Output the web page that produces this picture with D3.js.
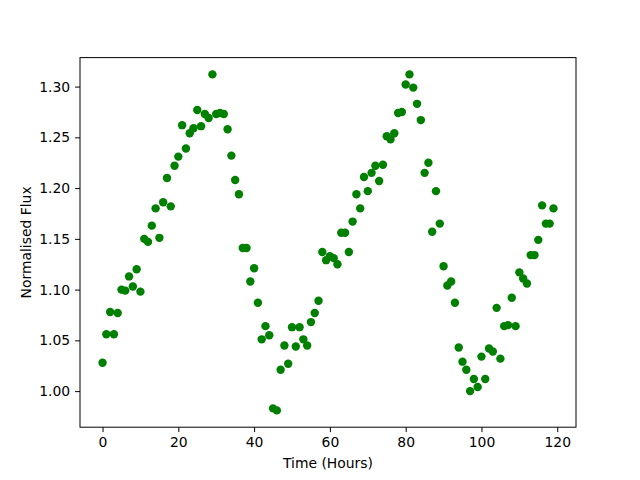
<!DOCTYPE html>
<html><head><meta charset="utf-8">
<script src="https://cdn.jsdelivr.net/npm/d3@7"></script>
<style>body{margin:0;background:#fff}svg{display:block}</style>
</head><body>
<script>
const hours = d3.range(0, 120);
const flux = [
1.028,1.056,1.078,1.056,1.077,1.100,1.099,1.113,1.103,1.120,
1.098,1.150,1.147,1.163,1.180,1.151,1.186,1.210,1.182,1.222,
1.231,1.262,1.239,1.254,1.259,1.277,1.261,1.273,1.269,1.312,
1.273,1.274,1.273,1.258,1.232,1.208,1.194,1.141,1.141,1.108,
1.121,1.087,1.051,1.064,1.055,0.983,0.981,1.021,1.045,1.027,
1.063,1.044,1.063,1.051,1.045,1.068,1.077,1.089,1.137,1.129,
1.133,1.131,1.125,1.156,1.156,1.137,1.167,1.194,1.180,1.211,
1.197,1.215,1.222,1.207,1.223,1.251,1.248,1.254,1.274,1.275,
1.302,1.312,1.299,1.283,1.267,1.215,1.225,1.157,1.197,1.165,
1.123,1.104,1.108,1.087,1.043,1.029,1.021,1.000,1.012,1.004,
1.034,1.012,1.042,1.039,1.082,1.032,1.064,1.065,1.092,1.064,
1.117,1.111,1.106,1.134,1.134,1.149,1.183,1.165,1.165,1.180];
const xTicks = [0,20,40,60,80,100,120];
const yTicks = [1.00,1.05,1.10,1.15,1.20,1.25,1.30];
const xLabel = "Time (Hours)";
const yLabel = "Normalised Flux";

const W = 640, H = 480;
const m = {left: 80, right: 576, top: 57.6, bottom: 427.2};
const svg = d3.select("body").append("svg").attr("width", W).attr("height", H)
  .style("font-family", "'DejaVu Sans', sans-serif");

const xmin = d3.min(hours), xmax = d3.max(hours);
const ymin = d3.min(flux), ymax = d3.max(flux);
const xp = (xmax - xmin) * 0.05, yp = (ymax - ymin) * 0.05;
const x = d3.scaleLinear().domain([xmin - xp, xmax + xp]).range([m.left, m.right]);
const y = d3.scaleLinear().domain([ymin - yp, ymax + yp]).range([m.bottom, m.top]);

svg.append("g").selectAll("circle").data(hours).join("circle")
  .attr("cx", (d) => x(d)).attr("cy", (d, i) => y(flux[i]))
  .attr("r", 4.2).attr("fill", "#008000");

const gx = svg.append("g").attr("transform", `translate(0,${m.bottom})`)
  .call(d3.axisBottom(x).tickValues(xTicks).tickFormat(d3.format("d")).tickSize(4.9).tickPadding(4.9));
const gy = svg.append("g").attr("transform", `translate(${m.left},0)`)
  .call(d3.axisLeft(y).tickValues(yTicks).tickFormat(d3.format(".2f")).tickSize(4.9).tickPadding(4.9));
[gx, gy].forEach(g => {
  g.select(".domain").remove();
  g.selectAll("text").attr("font-size", 13.9).attr("font-family", "'DejaVu Sans', sans-serif").attr("fill", "#000");
  g.selectAll("line").attr("stroke", "#000").attr("stroke-width", 1);
});
svg.append("rect").attr("x", m.left).attr("y", m.top)
  .attr("width", m.right - m.left).attr("height", m.bottom - m.top)
  .attr("fill", "none").attr("stroke", "#000").attr("stroke-width", 1);

svg.append("text").attr("x", (m.left + m.right) / 2).attr("y", 468)
  .attr("text-anchor", "middle").attr("font-size", 13.9).text(xLabel);
svg.append("text").attr("transform", `translate(31,${(m.top + m.bottom) / 2}) rotate(-90)`)
  .attr("text-anchor", "middle").attr("font-size", 13.9).text(yLabel);
</script>
</body></html>
